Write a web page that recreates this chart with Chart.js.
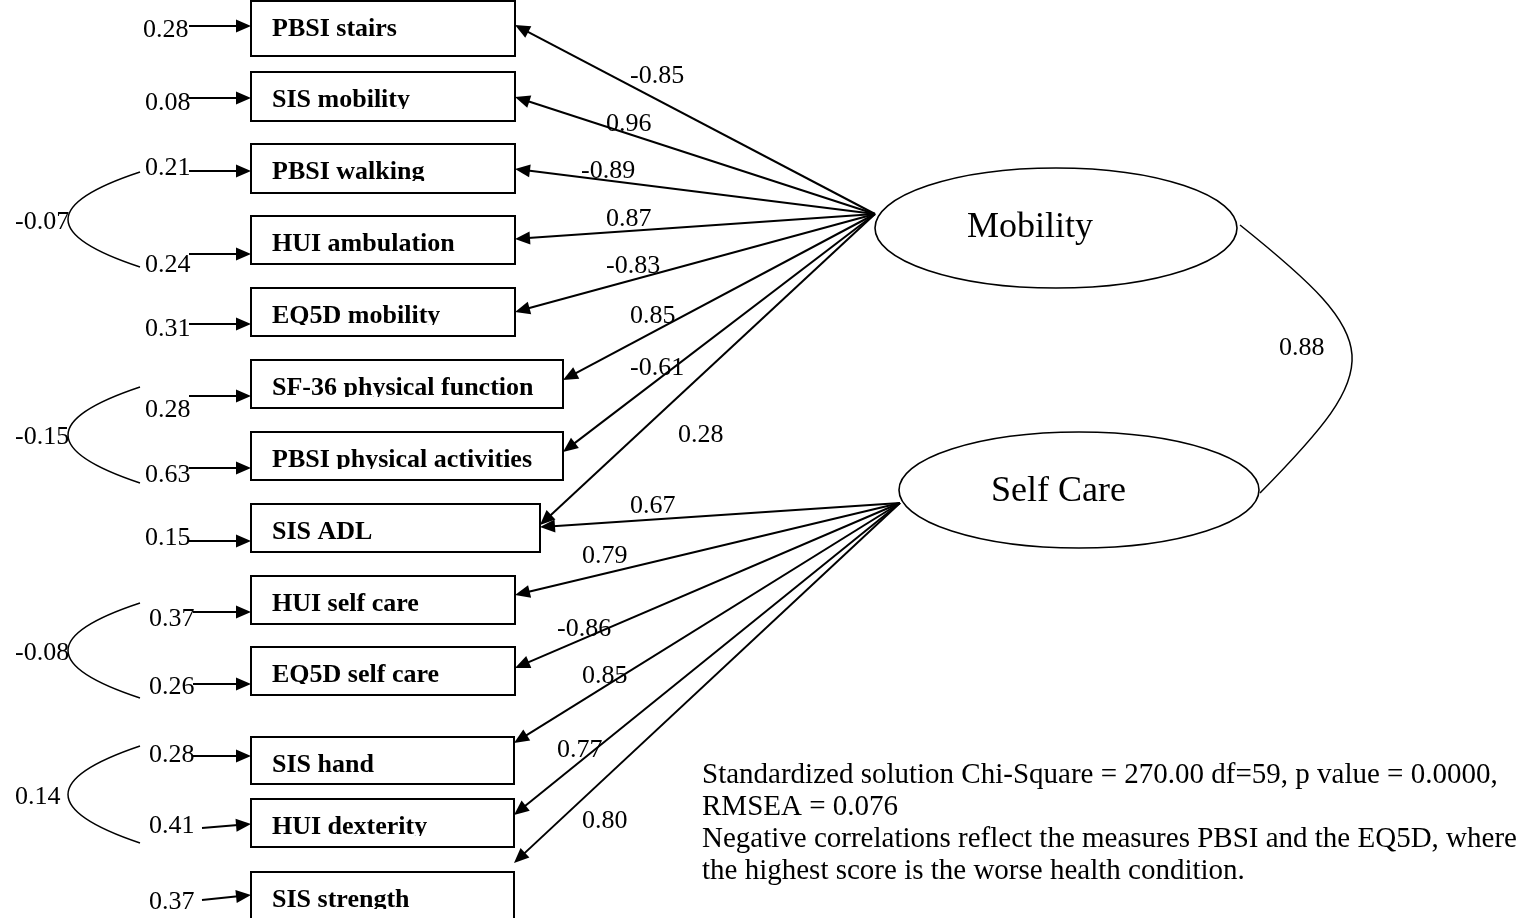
<!DOCTYPE html>
<html><head><meta charset="utf-8">
<script src="https://cdn.jsdelivr.net/npm/chart.js@4.4.0/dist/chart.umd.min.js"></script>
<style>html,body{margin:0;padding:0;background:#fff;overflow:hidden}#wrap{width:1537px;height:918px;position:relative}</style>
</head><body><div id="wrap"><canvas id="c"></canvas></div>
<script>
// ---------------- DATA ----------------
const indicators = ['PBSI stairs','SIS mobility','PBSI walking','HUI ambulation','EQ5D mobility',
  'SF-36 physical function','PBSI physical activities','SIS ADL','HUI self care','EQ5D self care',
  'SIS hand','HUI dexterity','SIS strength'];
const errorVariances = [0.28,0.08,0.21,0.24,0.31,0.28,0.63,0.15,0.37,0.26,0.28,0.41,0.37];
const mobilityLoadings = [-0.85,0.96,-0.89,0.87,-0.83,0.85,-0.61,0.28,null,null,null,null,null];
const selfCareLoadings = [null,null,null,null,null,null,null,0.67,0.79,-0.86,0.85,0.77,0.80];
const factorNames = ['Mobility','Self Care'];
const covFrom = [2,5,8,10];
const covTo = [3,6,9,11];
const covValues = [-0.07,-0.15,-0.08,0.14];
const factorCorrelation = 0.88;
const noteLines = ['Standardized solution Chi-Square = 270.00 df=59, p value = 0.0000,',
  'RMSEA = 0.076',
  'Negative correlations reflect the measures PBSI and the EQ5D, where',
  'the highest score is the worse health condition.'];

// ---------------- LAYOUT (layout units, mapped through the chart scales) ----------------
const L = {
  boxLeft: 251,
  rowTop:    [1,72,144,216,288,360,432,504,576,647,737,799,872],
  rowHeight: [55,49,49,48,48,48,48,48,48,48,47,48,48],
  boxWidth:  [264,264,264,264,264,312,312,289,264,264,263,263,263],
  textInset: 21, textBaseline: 35,
  errArrowY:   [26,98,171,254,324,396,468,541,612,684,756,824,895],
  errStartY:   [26,98,171,254,324,396,468,541,612,684,756,828,900],
  errStartX:   [189,189,189,189,189,189,189,189,193,193,193,202,202],
  errLabelX:   [143,145,145,145,145,145,145,145,149,149,149,149,149],
  errLabelY:   [37,110,175,272,336,417,482,545,626,694,762,833,909],
  factorOrigin: [[875,214],[900,503]],
  ellipse: [[1056,228,181,60],[1079,490,180,58]],
  factorLabel: [[967,237],[991,501]],
  tipY: {m:[25,97,169,239,312,380,452,525], s:[527,595,668,743,815,863]},
  mLabel: [[630,83],[606,131],[581,178],[606,226],[606,273],[630,323],[630,375],[678,442]],
  sLabel: [[630,513],[582,563],[557,636],[582,683],[557,757],[582,828]],
  covEndX: 140, covVertexX: 68,
  covTop: [172,387,603,746], covBottom: [267,483,698,843],
  covLabelX: 15,
  corrCurve: [1240,225,1386,342,1386,365,1260,493],
  corrLabel: [1279,355],
  noteX: 702, noteY: [783,815,847,879]
};

const fmt = v => v.toFixed(2);
const SERIF = '"Liberation Serif","Times New Roman",serif';

const diagram = {
  id: 'diagram',
  afterDraw(chart) {
    const ctx = chart.ctx, xs = chart.scales.x, ys = chart.scales.y;
    const X = v => xs.getPixelForValue(v), Y = v => ys.getPixelForValue(v);
    ctx.save();
    ctx.strokeStyle = '#000'; ctx.fillStyle = '#000';
    ctx.lineCap = 'butt'; ctx.lineJoin = 'miter';

    function arrow(x0, y0, x1, y1, lw) {
      const a = Math.atan2(y1 - y0, x1 - x0), len = 15, hw = 6.5;
      const bx = x1 - len * Math.cos(a), by = y1 - len * Math.sin(a);
      ctx.lineWidth = lw;
      ctx.beginPath(); ctx.moveTo(x0, y0); ctx.lineTo(bx + 2*Math.cos(a), by + 2*Math.sin(a)); ctx.stroke();
      ctx.beginPath(); ctx.moveTo(x1, y1);
      ctx.lineTo(bx - hw * Math.sin(a), by + hw * Math.cos(a));
      ctx.lineTo(bx + hw * Math.sin(a), by - hw * Math.cos(a));
      ctx.closePath(); ctx.fill();
    }

    // indicator boxes
    indicators.forEach((name, i) => {
      const l = X(L.boxLeft), t = Y(L.rowTop[i]);
      const r = X(L.boxLeft + L.boxWidth[i]), b = Y(L.rowTop[i] + L.rowHeight[i]);
      ctx.lineWidth = 2; ctx.strokeRect(l, t, r - l, b - t);
      const base = Y(L.rowTop[i] + L.textBaseline);
      ctx.save(); ctx.beginPath(); ctx.rect(l, t, r - l, base + 2 - t); ctx.clip();
      ctx.font = 'bold 26px ' + SERIF; ctx.textBaseline = 'alphabetic'; ctx.textAlign = 'left';
      ctx.fillText(name, X(L.boxLeft + L.textInset), base);
      ctx.restore();
    });

    // error terms
    ctx.font = '26px ' + SERIF; ctx.textAlign = 'left'; ctx.textBaseline = 'alphabetic';
    errorVariances.forEach((v, i) => {
      ctx.fillText(fmt(v), X(L.errLabelX[i]), Y(L.errLabelY[i]));
      arrow(X(L.errStartX[i]), Y(L.errStartY[i]), X(L.boxLeft), Y(L.errArrowY[i]), 2);
    });

    // error covariances
    covValues.forEach((v, k) => {
      const t = L.covTop[k], b = L.covBottom[k], m = (t + b) / 2;
      ctx.lineWidth = 1.5; ctx.beginPath();
      ctx.moveTo(X(L.covEndX), Y(t));
      ctx.quadraticCurveTo(X(L.covVertexX), Y(t + (m - t) * 0.5), X(L.covVertexX), Y(m));
      ctx.quadraticCurveTo(X(L.covVertexX), Y(b - (b - m) * 0.5), X(L.covEndX), Y(b));
      ctx.stroke();
      ctx.fillText(fmt(v), X(L.covLabelX), Y(m + 9));
    });

    // factor loadings
    const boxRight = i => L.boxLeft + L.boxWidth[i];
    let mi = 0, si = 0;
    mobilityLoadings.forEach((v, i) => {
      if (v === null) return;
      const o = L.factorOrigin[0];
      arrow(X(o[0]), Y(o[1]), X(boxRight(i)), Y(L.tipY.m[mi]), 2);
      ctx.fillText(fmt(v), X(L.mLabel[mi][0]), Y(L.mLabel[mi][1]));
      mi++;
    });
    selfCareLoadings.forEach((v, i) => {
      if (v === null) return;
      const o = L.factorOrigin[1];
      arrow(X(o[0]), Y(o[1]), X(boxRight(i)), Y(L.tipY.s[si]), 2);
      ctx.fillText(fmt(v), X(L.sLabel[si][0]), Y(L.sLabel[si][1]));
      si++;
    });

    // latent factors
    factorNames.forEach((n, k) => {
      const e = L.ellipse[k];
      ctx.lineWidth = 1.6; ctx.beginPath();
      ctx.ellipse(X(e[0]), Y(e[1]), Math.abs(X(e[0] + e[2]) - X(e[0])), Math.abs(Y(e[1] + e[3]) - Y(e[1])), 0, 0, Math.PI * 2);
      ctx.stroke();
      ctx.font = '36px ' + SERIF;
      ctx.fillText(n, X(L.factorLabel[k][0]), Y(L.factorLabel[k][1]));
    });

    // factor correlation
    const c = L.corrCurve;
    ctx.lineWidth = 1.5; ctx.beginPath();
    ctx.moveTo(X(c[0]), Y(c[1]));
    ctx.bezierCurveTo(X(c[2]), Y(c[3]), X(c[4]), Y(c[5]), X(c[6]), Y(c[7]));
    ctx.stroke();
    ctx.font = '26px ' + SERIF;
    ctx.fillText(fmt(factorCorrelation), X(L.corrLabel[0]), Y(L.corrLabel[1]));

    // note
    ctx.font = '29px ' + SERIF;
    noteLines.forEach((s, i) => ctx.fillText(s, X(L.noteX), Y(L.noteY[i])));
    ctx.restore();
  }
};

new Chart(document.getElementById('c'), {
  type: 'scatter',
  data: { datasets: [{ data: [], pointRadius: 0 }] },
  options: {
    responsive: true, maintainAspectRatio: false, animation: false,
    layout: { padding: 0 },
    plugins: { legend: { display: false }, tooltip: { enabled: false } },
    scales: {
      x: { type: 'linear', display: false, min: 0, max: 1537 },
      y: { type: 'linear', display: false, min: 0, max: 918, reverse: true }
    }
  },
  plugins: [diagram]
});
</script></body></html>
